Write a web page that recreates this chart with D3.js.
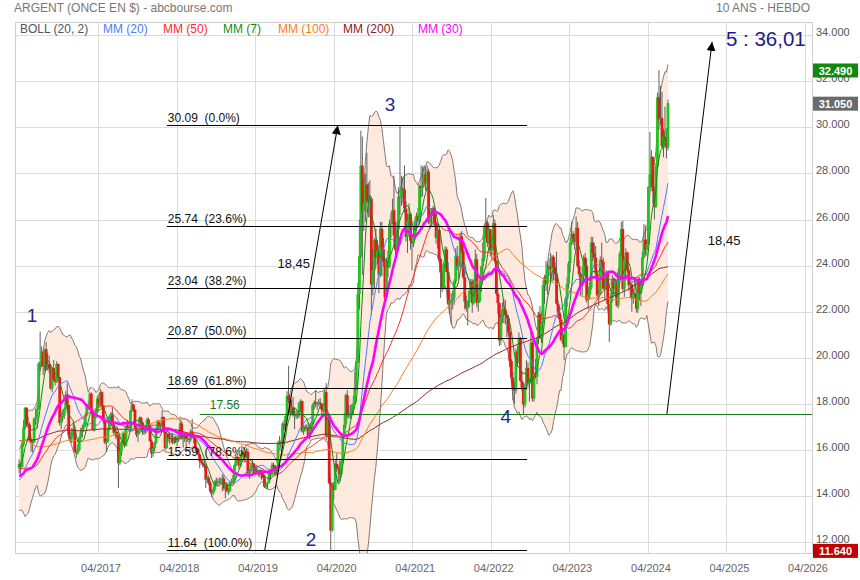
<!DOCTYPE html>
<html><head><meta charset="utf-8">
<script src="https://cdn.jsdelivr.net/npm/d3@7"></script>
<style>body{margin:0;background:#fff}svg{display:block}text{font-family:"Liberation Sans",Arial,sans-serif}</style>
</head><body><svg id="c" width="860" height="580"></svg>
<script>
// ---------- DATA ----------
const firstWeek = new Date(2016, 2, 28); // Monday of first weekly candle
// weekly closes before the visible window (used only to seed the moving averages)
const historyCloses = [
19.05,19.60,20.85,21.05, 21.00,20.80,21.00,20.55, 20.30,20.00,19.80,19.45,19.45,
19.15,18.66,17.90,17.65, 16.97,17.34,17.27,17.33,16.18, 15.62,15.51,16.17,15.48, 16.37,17.14,16.17,15.93,
15.73,16.52,18.02,17.96,17.22, 16.58,17.33,16.40,16.57, 15.98,15.53,16.88,17.00, 16.73,16.29,15.78,15.68,
16.26,16.48,17.53,17.03,16.61, 16.00,15.94,16.07,15.90, 15.57,15.38,14.93,14.74,14.74, 14.74,15.31,15.50,14.61,
14.57,14.63,15.15,15.20, 14.65,16.16,15.81,15.84,15.56, 14.79,14.16,14.29,14.16, 14.47,14.01,13.90,14.35,
13.84,13.95,14.12,14.14,14.35, 15.00,15.81,15.33,14.73, 15.62,15.54,15.84,15.23];

const opens = [
// 2016
15.23,15.38,15.26,16.23,16.98, 17.83,17.11,17.10,16.44,16.32, 16.33,17.37,17.40,17.77, 19.75,19.82,20.26,19.63, 20.37,19.50,19.73,19.54,18.67, 19.55,19.07,18.95,19.73, 19.16,17.17,17.43,17.50,17.78, 18.40,17.95,16.63,16.50, 16.72,16.89,15.93,15.86,
// 2017
15.99,16.53,16.77,16.98,17.07, 17.51,17.96,17.98,18.44, 17.61,16.87,17.42,17.65, 18.23,17.97,18.51,17.93, 17.26,16.32,16.38,16.90,17.43, 17.57,17.10,16.74,16.78, 16.60,15.43,15.94,16.35,16.70, 16.19,17.05,17.01,16.99, 17.70,17.97,17.74,16.96, 16.66,16.75,17.40,17.19,16.77, 16.90,16.86,17.32,17.05, 16.38,15.84,16.07,16.31,
// 2018
16.91,17.21,17.02,17.05,17.43, 16.80,16.08,16.70,16.53, 16.52,16.50,16.30,16.54, 16.35,16.43,16.65,17.15,16.47, 16.56,16.70,16.48,16.48, 16.45,16.80,16.59,16.50, 16.07,16.03,15.80,15.50,15.45, 15.41,15.30,14.71,14.79, 14.58,14.20,14.14,14.30, 14.63,14.59,14.60,14.64,14.68, 14.76,14.33,14.49,14.22, 14.23,14.59,14.62,14.68,
// 2019
15.33,15.70,15.63,15.32,15.68, 15.90,15.79,15.76,15.92, 14.98,15.08,15.31,15.40, 15.00,15.10,14.98,14.94,15.10, 14.95,14.80,14.40,14.55, 14.57,15.00,14.95,15.35, 15.30,15.00,15.15,16.30,16.35, 16.29,17.14,17.13,17.47, 18.35,18.15,17.60,17.85,17.50, 17.55,17.50,17.50,18.05, 18.12,16.80,17.00,16.95, 16.97,16.54,16.90,17.16,
// 2020
17.96,18.07,17.99,18.05,18.05, 18.00,17.75,17.71,18.51, 16.63,17.31,14.55,12.50,14.47, 14.27,15.40,15.22,15.20, 14.94,15.51,16.60,17.10, 18.38,17.50,17.50,17.60,17.77, 18.02,18.70,19.80,22.76, 24.40,28.34,26.37,26.70,27.52, 26.82,26.74,26.90,23.18, 23.79,25.11,24.35,24.64, 23.59,25.60,24.73,24.17,22.63, 24.19,23.93,25.81,
// 2021
25.86,26.41,25.31,24.68,25.57, 26.98,26.94,27.35,27.30, 26.48,25.25,25.95,26.25,25.08, 24.96,25.29,25.95,26.17, 25.90,27.45,27.37,27.50,27.97, 27.58,28.08,25.88,26.15, 26.48,26.24,25.85,25.21, 25.55,24.29,23.70,23.04,24.08, 24.70,23.72,22.35,22.48, 22.49,22.60,23.32,24.42, 23.99,24.17,25.27,24.64,23.49, 22.44,22.15,22.42,22.90,
// 2022
23.31,22.37,23.00,24.27,22.38, 22.45,23.19,23.97,24.33, 25.69,25.87,25.00,25.57, 24.65,24.75,25.84,24.20, 22.78,22.37,20.75,21.77,22.10, 22.09,21.86,21.73,21.12, 19.86,19.15,18.63,18.58, 20.27,19.82,20.81,19.00,18.70, 17.97,18.80,19.56,18.90, 19.00,20.66,18.23,19.32,19.18, 20.82,21.91,20.87,21.50, 23.15,23.50,23.22,23.96,
// 2023
23.95,23.85,24.38,23.93,23.63, 22.35,21.96,21.66,20.78, 21.00,20.47,22.56,23.22, 24.10,25.00,25.37,25.19, 25.04,25.64,23.98,23.62,23.12, 23.56,24.35,24.00,22.50, 22.76,23.05,25.00,24.55,24.35, 23.66,22.71,22.80,24.25, 24.17,23.00,23.00,23.69, 22.34,21.45,22.60,23.42,23.00, 23.33,22.27,23.73,24.52, 25.59,22.99,24.23,24.57,
// 2024
23.79,23.15,23.18,22.57,22.80, 22.78,22.13,23.42,22.80, 23.12,24.36,25.12,24.68, 24.92,27.42,27.96,28.71,27.22, 26.55,28.30,31.30,30.35, 30.41,29.20,29.59,29.57, 29.13];

const highs = [
// 2016
15.60,15.45,16.30,17.30,17.85, 17.85,17.45,17.20,16.55,16.45, 17.40,17.80,17.95,19.80, 21.14,20.50,20.30,20.40, 20.68,20.20,20.10,19.70,19.60, 19.90,19.20,19.85,19.75, 19.18,17.65,17.75,17.85,18.55, 18.90,17.95,16.80,16.95, 17.20,17.05,16.05,16.25,
// 2017
16.60,16.95,17.10,17.20,17.60, 18.00,18.10,18.50,18.50, 17.65,17.50,17.75,18.35, 18.45,18.65,18.55,17.95, 17.30,16.50,17.00,17.50,17.65, 17.85,17.25,16.95,16.90, 16.65,16.10,16.40,16.80,16.80, 17.10,17.30,17.10,17.75, 18.20,18.00,17.80,17.05, 16.90,17.45,17.45,17.25,17.10, 17.05,17.40,17.40,17.15, 16.45,16.15,16.35,16.95,
// 2018
17.30,17.30,17.15,17.70,17.45, 16.85,16.80,16.75,16.70, 16.70,16.75,16.60,16.60, 16.55,16.85,17.35,17.25,16.60, 16.75,16.75,16.75,16.55, 16.90,17.35,16.65,16.55, 16.15,16.10,15.85,15.65,15.55, 15.60,15.35,14.85,14.90, 14.65,14.30,14.40,14.70, 14.80,14.75,14.80,14.80,14.95, 14.90,14.55,14.60,14.35, 14.65,14.75,14.90,15.40,
// 2019
15.75,15.85,15.70,15.75,16.20, 15.95,15.85,16.10,16.05, 15.15,15.40,15.60,15.45, 15.20,15.35,15.10,15.15,15.15, 15.00,14.90,14.60,14.60, 15.05,15.05,15.45,15.45, 15.35,15.25,16.40,16.60,16.45, 17.20,17.30,17.50,18.55, 19.65,18.40,18.20,18.30,17.85, 17.70,17.70,18.10,18.20, 18.15,17.05,17.10,17.10, 17.20,17.05,17.25,18.00,
// 2020
18.15,18.60,18.10,18.20,18.25, 18.05,17.85,18.60,18.90, 17.40,17.40,14.75,14.60,14.60, 15.55,15.85,15.35,15.55, 15.60,16.65,17.60,18.45, 18.60,17.95,17.95,18.00,18.35, 19.40,19.85,23.25,26.00, 29.86,29.60,27.80,28.00,28.90, 27.60,27.70,27.00,24.70, 25.20,25.60,25.10,24.90, 25.90,25.90,25.20,24.30,24.35, 24.65,26.00,26.30,
// 2021
26.90,27.90,25.90,25.95,27.40, 30.10,27.90,27.85,28.35, 26.80,26.25,26.70,26.30,25.20, 25.60,26.10,26.30,26.50, 27.50,28.35,28.30,28.35,28.30, 28.35,28.20,26.30,26.50, 26.60,26.55,25.95,25.80, 25.60,24.40,23.80,24.15,24.85, 24.80,24.15,22.95,22.80, 22.90,23.40,24.75,24.85, 24.20,25.40,25.50,24.85,23.90, 22.70,22.50,23.00,23.40,
// 2022
23.40,23.40,24.70,24.50,22.80, 23.40,24.00,25.00,25.80, 26.94,25.95,25.80,25.60, 24.90,26.20,26.00,24.25, 23.00,22.40,21.90,22.40,22.55, 22.50,22.00,21.85,21.30, 19.95,19.40,18.95,20.40, 20.50,21.10,20.90,19.40,18.90, 18.90,19.90,19.80,19.10, 21.25,20.75,19.40,19.95,20.90, 22.00,22.25,21.55,23.35, 23.60,24.20,24.10,24.30,
// 2023
24.55,24.45,24.45,24.15,24.60, 22.50,22.25,21.85,21.30, 21.10,22.65,23.50,24.20, 25.20,25.90,25.50,25.40, 26.13,25.90,24.25,23.70,23.95, 24.45,24.55,24.30,23.10, 23.30,25.25,25.25,25.00,24.85, 23.80,22.90,24.40,25.00, 24.35,23.35,23.80,23.70, 22.35,22.80,23.60,23.50,23.45, 23.40,23.90,24.60,25.90, 25.95,24.40,24.75,24.60,
// 2024
23.90,23.30,23.30,23.00,23.50, 22.90,23.50,23.50,23.35, 24.60,25.80,25.75,25.15, 27.45,29.80,29.00,28.75,27.40, 28.45,31.50,32.49,31.80, 31.55,29.95,30.90,29.85, 31.20];

const lows = [
// 2016
14.98,14.96,15.22,16.15,16.88, 17.00,16.95,16.40,15.92,15.90, 16.30,17.10,16.95,17.75, 19.50,19.60,19.25,19.40, 19.45,19.45,19.35,18.60,18.50, 19.00,18.80,18.90,19.10, 17.05,16.90,17.25,17.35,17.75, 17.60,16.45,16.35,16.30, 16.65,15.90,15.65,15.80,
// 2017
15.95,16.45,16.55,16.85,17.00, 17.45,17.75,17.80,17.55, 16.85,16.80,17.35,17.60, 17.85,17.90,17.80,17.15, 16.25,15.90,16.30,16.85,17.30, 17.05,16.65,16.50,16.45, 14.35,15.35,15.75,16.30,16.10, 16.15,16.90,16.85,16.95, 17.65,17.65,16.90,16.55, 16.35,16.70,17.05,16.65,16.65, 16.70,16.75,16.95,16.35, 15.65,15.70,15.95,16.25,
// 2018
16.85,16.90,16.80,17.00,16.75, 16.00,16.05,16.35,16.25, 16.35,16.25,16.25,16.30, 16.15,16.35,16.60,16.45,16.10, 16.35,16.10,16.35,16.25, 16.35,16.55,16.30,15.95, 15.85,15.70,15.20,15.35,15.25, 15.20,14.35,14.55,14.50, 14.10,13.95,14.05,14.20, 14.45,14.45,14.50,14.50,14.20, 14.25,13.90,14.15,14.05, 14.15,14.50,14.55,14.65,
// 2019
15.30,15.55,15.20,15.25,15.65, 15.70,15.45,15.70,14.95, 14.75,15.00,15.25,14.95, 14.95,14.95,14.85,14.80,14.70, 14.75,14.35,14.30,14.30, 14.55,14.70,14.85,15.10, 14.85,14.90,15.10,16.20,15.95, 16.25,16.85,16.95,17.40, 18.05,17.50,17.55,17.45,16.90, 17.35,17.35,17.40,17.70, 16.75,16.65,16.80,16.85, 16.50,16.45,16.85,17.10,
// 2020
17.75,17.85,17.75,17.90,17.80, 17.45,17.45,17.65,16.45, 16.55,14.50,11.64,12.45,13.85, 14.25,15.05,14.60,14.65, 14.80,15.45,16.55,16.95, 17.40,17.35,17.35,17.50,17.55, 18.00,18.60,19.75,22.10, 24.35,23.60,25.50,25.90,26.30, 26.10,26.10,21.85,22.70, 23.00,23.90,24.05,22.80, 23.50,23.55,23.95,22.50,22.60, 23.50,23.90,25.20,
// 2021
25.80,24.80,24.35,24.60,24.90, 26.20,26.60,26.70,26.30, 25.05,24.55,25.70,24.70,23.80, 24.80,25.10,25.50,25.70, 25.80,26.95,27.00,27.40,27.25, 27.40,25.80,25.60,25.70, 25.75,25.70,24.95,24.75, 24.20,22.60,22.85,22.95,23.90, 23.70,22.30,21.90,21.45, 22.10,22.30,23.20,23.80, 23.40,23.90,24.55,23.40,22.10, 22.00,21.40,22.20,22.75,
// 2022
21.95,22.30,22.95,22.20,22.00, 22.40,22.85,23.40,24.20, 25.20,24.80,24.90,24.40, 24.20,24.70,24.10,22.70, 21.90,20.50,20.55,21.50,21.50, 21.45,20.90,20.95,19.60, 18.90,18.15,18.00,18.45, 19.60,19.75,18.95,18.55,17.56, 17.85,18.60,18.70,18.10, 18.95,18.10,18.10,19.10,18.85, 20.60,20.80,20.65,21.20, 22.35,22.90,22.75,23.55,
// 2023
23.20,23.30,23.35,23.35,22.30, 21.75,21.50,20.70,20.60, 19.90,20.45,22.20,23.00, 23.70,24.90,24.90,24.70, 24.85,23.90,23.50,22.70,22.70, 23.25,23.50,22.40,22.10, 22.55,22.95,24.20,23.95,23.40, 22.60,22.25,22.75,23.95, 22.95,22.50,22.95,22.10, 20.68,21.40,22.40,22.75,22.60, 22.20,22.15,23.50,24.40, 22.90,22.65,23.50,23.70,
// 2024
22.90,22.60,22.00,22.35,22.55, 21.95,21.95,22.50,22.25, 23.10,24.30,24.45,24.40, 24.90,27.40,27.40,26.65,26.00, 26.50,28.25,29.90,30.10, 29.10,28.70,29.10,28.65, 29.00];

const closes = [
// 2016
15.38,15.26,16.23,16.98,17.83, 17.11,17.10,16.44,16.32,16.33, 17.37,17.40,17.77,19.75, 19.82,20.26,19.63,20.37, 19.50,19.73,19.54,18.67,19.55, 19.07,18.95,19.73,19.16, 17.17,17.43,17.50,17.78,18.40, 17.95,16.63,16.50,16.72, 16.89,15.93,15.86,15.99,
// 2017
16.53,16.77,16.98,17.07,17.51, 17.96,17.98,18.44,17.61, 16.87,17.42,17.65,18.23, 17.97,18.51,17.93,17.26, 16.32,16.38,16.90,17.43,17.57, 17.10,16.74,16.78,16.60, 15.43,15.94,16.35,16.70,16.19, 17.05,17.01,16.99,17.70, 17.97,17.74,16.96,16.66, 16.75,17.40,17.19,16.77,16.90, 16.86,17.32,17.05,16.38, 15.84,16.07,16.31,16.91,
// 2018
17.21,17.02,17.05,17.43,16.80, 16.08,16.70,16.53,16.52, 16.50,16.30,16.54,16.35, 16.43,16.65,17.15,16.47,16.56, 16.70,16.48,16.48,16.45, 16.80,16.59,16.50,16.07, 16.03,15.80,15.50,15.45,15.41, 15.30,14.71,14.79,14.58, 14.20,14.14,14.30,14.63, 14.59,14.60,14.64,14.68,14.76, 14.33,14.49,14.22,14.23, 14.59,14.62,14.68,15.33,
// 2019
15.70,15.63,15.32,15.68,15.90, 15.79,15.76,15.92,14.98, 15.08,15.31,15.40,15.00, 15.10,14.98,14.94,15.10,14.95, 14.80,14.40,14.55,14.57, 15.00,14.95,15.35,15.30, 15.00,15.15,16.30,16.35,16.29, 17.14,17.13,17.47,18.35, 18.15,17.60,17.85,17.50,17.55, 17.50,17.50,18.05,18.12, 16.80,17.00,16.95,16.97, 16.54,16.90,17.16,17.96,
// 2020
18.07,17.99,18.05,18.05,18.00, 17.75,17.71,18.51,16.63, 17.31,14.55,12.50,14.47,14.27, 15.40,15.22,15.20,14.94, 15.51,16.60,17.10,18.38, 17.50,17.50,17.60,17.77,18.02, 18.70,19.80,22.76,24.40, 28.34,26.37,26.70,27.52,26.82, 26.74,26.90,23.18,23.79, 25.11,24.35,24.64,23.59, 25.60,24.73,24.17,22.63,24.19, 23.93,25.81,25.86,
// 2021
26.41,25.31,24.68,25.57,26.98, 26.94,27.35,27.30,26.48, 25.25,25.95,26.25,25.08,24.96, 25.29,25.95,26.17,25.90, 27.45,27.37,27.50,27.97,27.58, 28.08,25.88,26.15,26.48, 26.24,25.85,25.21,25.55, 24.29,23.70,23.04,24.08,24.70, 23.72,22.35,22.48,22.49, 22.60,23.32,24.42,23.99, 24.17,25.27,24.64,23.49,22.44, 22.15,22.42,22.90,23.31,
// 2022
22.37,23.00,24.27,22.38,22.45, 23.19,23.97,24.33,25.69, 25.87,25.00,25.57,24.65, 24.75,25.84,24.20,22.78, 22.37,20.75,21.77,22.10,22.09, 21.86,21.73,21.12,19.86, 19.15,18.63,18.58,20.27, 19.82,20.81,19.00,18.70,17.97, 18.80,19.56,18.90,19.00, 20.66,18.23,19.32,19.18,20.82, 21.91,20.87,21.50,23.15, 23.50,23.22,23.96,23.95,
// 2023
23.85,24.38,23.93,23.63,22.35, 21.96,21.66,20.78,21.00, 20.47,22.56,23.22,24.10, 25.00,25.37,25.19,25.04, 25.64,23.98,23.62,23.12,23.56, 24.35,24.00,22.50,22.76, 23.05,25.00,24.55,24.35,23.66, 22.71,22.80,24.25,24.17, 23.00,23.00,23.69,22.34, 21.45,22.60,23.42,23.00,23.33, 22.27,23.73,24.52,25.59, 22.99,24.23,24.57,23.79,
// 2024
23.15,23.18,22.57,22.80,22.78, 22.13,23.42,22.80,23.12, 24.36,25.12,24.68,24.92, 27.42,27.96,28.71,27.22,26.55, 28.30,31.30,30.35,30.41, 29.20,29.59,29.57,29.13, 31.05];

const yTicks = [12,14,16,18,20,22,24,26,28,30,32,34];
const xTickYears = [2017,2018,2019,2020,2021,2022,2023,2024,2025,2026];
const fibLevels = [30.09,25.74,23.04,20.87,18.69,15.59,11.64];
const fibPcts = ["0.0%","23.6%","38.2%","50.0%","61.8%","78.6%","100.0%"];
const supportLevel = 17.56;
const targetText = "5 : 36,01";
const moveText = "18,45";
const waveLabels = [["1", new Date(2016,4,29), 21.82],["2", new Date(2019,11,17), 12.13],["3", new Date(2020,11,19), 31.01],["4", new Date(2022,5,10), 17.43]];
const badges = [[32.49,"#0f8a0f"],[31.05,"#6a6a6a"],[11.64,"#c00000"]];
const legendItems = [["BOLL (20, 2)","#555555",20],["MM (20)","#4a7dff",103],["MM (50)","#ff2a2a",163],["MM (7)","#138a13",223],["MM (100)","#ff7b1c",278],["MM (200)","#8b2020",343],["MM (30)","#ff00ff",418]];
const maSpecs = [[200,"#8b2020",1],[100,"#ff7b1c",1],[50,"#ff2a2a",1],[20,"#4a7dff",1],[7,"#138a13",1],[30,"#ff00ff",2.6]];

// ---------- LAYOUT ----------
const PL=15, PR=812, PT=22, PB=553;
const svg = d3.select("#c");
const x = d3.scaleTime().domain([new Date(2017,3,1), new Date(2026,3,1)]).range([98,805]);
const y = d3.scaleLinear().domain([12,34]).range([542.1,35.2]);
const dates = closes.map((_,i)=> d3.timeDay.offset(d3.timeMonday.offset(firstWeek,i),2));

const defs = svg.append("defs");
defs.append("clipPath").attr("id","clip").append("rect").attr("x",PL).attr("y",PT).attr("width",PR-PL).attr("height",PB-PT);
defs.append("marker").attr("id","ah").attr("viewBox","0 0 10 10").attr("refX",10).attr("refY",5)
  .attr("markerWidth",9).attr("markerHeight",9).attr("markerUnits","userSpaceOnUse").attr("orient","auto")
  .append("path").attr("d","M0,0L10,5L0,10Z").attr("fill","#000");

// grid
const grid = svg.append("g");
yTicks.forEach(v=>grid.append("line").attr("x1",PL).attr("x2",PR).attr("y1",Math.round(y(v))+0.5).attr("y2",Math.round(y(v))+0.5).attr("stroke","#dcdcdc"));
xTickYears.forEach(yr=>{const xx=Math.round(x(new Date(yr,3,1)))+0.5;grid.append("line").attr("x1",xx).attr("x2",xx).attr("y1",PT).attr("y2",PB).attr("stroke","#dcdcdc");});
svg.append("rect").attr("x",PL+0.5).attr("y",PT+0.5).attr("width",PR-PL).attr("height",PB-PT).attr("fill","none").attr("stroke","#cfcfcf");

// indicators
const all = historyCloses.concat(closes), off = historyCloses.length;
function win(i,n){const e=off+i+1;return all.slice(Math.max(0,e-n),e);}
const sma = n => closes.map((_,i)=>d3.mean(win(i,n)));
const boll = closes.map((_,i)=>{const w=win(i,20),m=d3.mean(w),sd=Math.sqrt(d3.mean(w,v=>(v-m)*(v-m)));return [m-2*sd,m+2*sd];});

const plot = svg.append("g").attr("clip-path","url(#clip)");
plot.append("path").datum(boll).attr("fill","#fde9dd")
  .attr("d",d3.area().x((d,i)=>x(dates[i])).y0(d=>y(d[0])).y1(d=>y(d[1])));
[0,1].forEach(k=>plot.append("path").datum(boll).attr("fill","none").attr("stroke","#857a74").attr("stroke-width",1)
  .attr("d",d3.line().x((d,i)=>x(dates[i])).y(d=>y(d[k]))));

// candles
const cg = plot.append("g");
closes.forEach((c,i)=>{
  const o=opens[i], xc=x(dates[i]);
  cg.append("line").attr("x1",xc).attr("x2",xc).attr("y1",y(highs[i])).attr("y2",y(lows[i])).attr("stroke","#505050").attr("stroke-width",0.9);
  const top=y(Math.max(o,c)), bot=y(Math.min(o,c));
  cg.append("rect").attr("x",xc-1.4).attr("width",2.8).attr("y",top).attr("height",Math.max(1,bot-top))
    .attr("fill", c>=o ? "#1ec51e" : "#e31b1b");
});

// moving averages
maSpecs.forEach(([n,col,w])=>{
  plot.append("path").datum(sma(n)).attr("fill","none").attr("stroke",col).attr("stroke-width",w)
    .attr("d",d3.line().x((d,i)=>x(dates[i])).y(d=>y(d)));
});

// fibonacci levels
const fibStart = new Date(2018,1,15), fibEnd = new Date(2022,8,17);
fibLevels.forEach((v,i)=>{
  const yy=Math.round(y(v))+0.5;
  svg.append("line").attr("x1",x(fibStart)).attr("x2",x(fibEnd)).attr("y1",yy).attr("y2",yy).attr("stroke","#000").attr("stroke-width",1.1);
  svg.append("text").attr("x",x(fibStart)+1).attr("y",yy-4).attr("font-size",12).attr("fill","#111").style("white-space","pre")
    .text(v.toFixed(2)+"  ("+fibPcts[i]+")");
});
// support
const supStart = new Date(2018,6,18);
svg.append("line").attr("x1",x(supStart)).attr("x2",PR).attr("y1",Math.round(y(supportLevel))+0.5).attr("y2",Math.round(y(supportLevel))+0.5).attr("stroke","#1a7a1a").attr("stroke-width",1.1);
svg.append("text").attr("x",x(supStart)+10).attr("y",y(supportLevel)-5).attr("font-size",12).attr("fill","#1a7a1a").text(supportLevel.toFixed(2));

// arrows
const arrows = [[new Date(2019,4,16),11.64,new Date(2020,3,20),30.09],[new Date(2024,5,28),17.56,new Date(2025,0,24),33.71]];
arrows.forEach(([d0,v0,d1,v1])=>svg.append("line").attr("x1",x(d0)).attr("y1",y(v0)).attr("x2",x(d1)).attr("y2",y(v1)).attr("stroke","#000").attr("stroke-width",1).attr("marker-end","url(#ah)"));
[[new Date(2019,8,28),24.11],[new Date(2025,2,21),25.11]].forEach(([d,v])=>svg.append("text").attr("x",x(d)).attr("y",y(v)).attr("text-anchor","middle").attr("dominant-baseline","central").attr("font-size",13).attr("fill","#111").text(moveText));
svg.append("text").attr("x",x(new Date(2025,9,1))).attr("y",y(33.85)).attr("text-anchor","middle").attr("dominant-baseline","central").attr("font-size",20.5).attr("fill","#1c1c8c").text(targetText);
waveLabels.forEach(([t,d,v])=>svg.append("text").attr("x",x(d)).attr("y",y(v)).attr("text-anchor","middle").attr("dominant-baseline","central").attr("font-size",19).attr("fill","#28288c").text(t));

// axes labels
yTicks.forEach(v=>svg.append("text").attr("x",816).attr("y",y(v)-3).attr("dominant-baseline","central").attr("font-size",11).attr("fill","#555").text(v.toFixed(3)));
badges.forEach(([v,col])=>{
  const yy=y(v)+0.5;
  svg.append("rect").attr("x",813).attr("y",yy-7).attr("width",45).attr("height",14).attr("fill",col);
  svg.append("text").attr("x",835.5).attr("y",yy+0.5).attr("text-anchor","middle").attr("dominant-baseline","central").attr("font-size",11).attr("font-weight","bold").attr("fill","#fff").text(v.toFixed(3));
});
xTickYears.forEach(yr=>svg.append("text").attr("x",x(new Date(yr,3,1))+3).attr("y",572).attr("text-anchor","middle").attr("font-size",11).attr("fill","#666").text("04/"+yr));

// header + legend
svg.append("text").attr("x",14).attr("y",12).attr("font-size",12).attr("fill","#777").text("ARGENT (ONCE EN $) - abcbourse.com");
svg.append("text").attr("x",810).attr("y",12).attr("text-anchor","end").attr("font-size",12).attr("fill","#777").text("10 ANS - HEBDO");
legendItems.forEach(([t,col,lx])=>svg.append("text").attr("x",lx).attr("y",33).attr("font-size",12).attr("fill",col).text(t));
</script></body></html>
